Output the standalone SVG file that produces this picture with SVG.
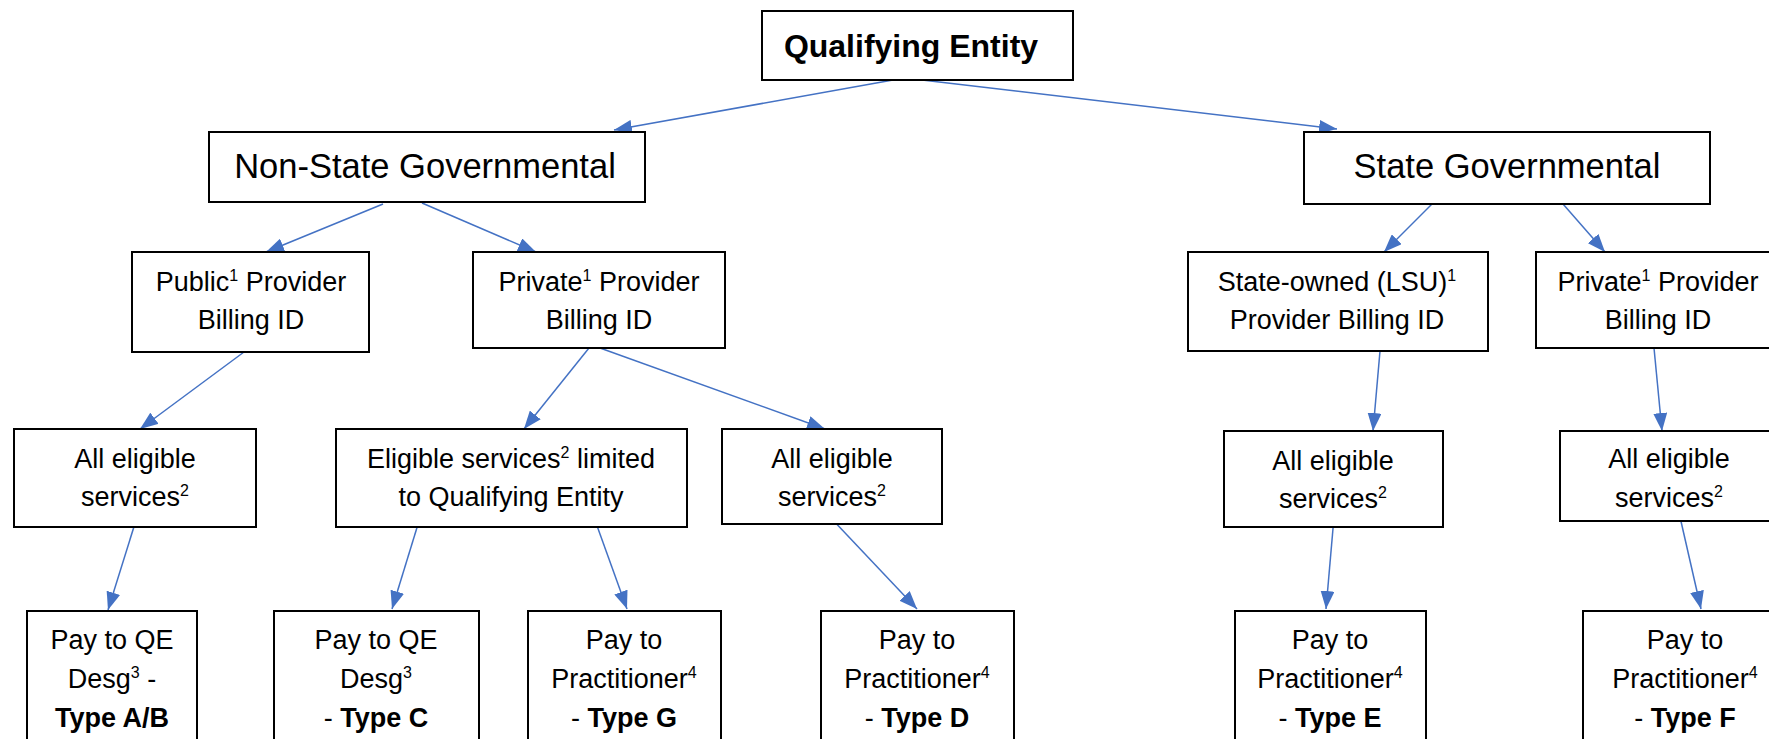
<svg xmlns="http://www.w3.org/2000/svg" width="1769" height="739" viewBox="0 0 1769 739">
<style>
.box{fill:#fff;stroke:#000;stroke-width:2}
.t{font-family:"Liberation Sans",Arial,sans-serif;font-size:27px;fill:#000;text-anchor:middle}
.big{font-size:34.5px}
.qe{font-size:32px;font-weight:bold}
.b{font-weight:bold}
.sup{font-size:16px}
.edge{stroke:#4472C4;stroke-width:1.5;fill:none;marker-end:url(#ah)}
</style>
<defs>
<marker id="ah" markerUnits="userSpaceOnUse" markerWidth="18" markerHeight="14" refX="18" refY="7" orient="auto">
<path d="M0,0 L18,7 L0,14 z" fill="#4472C4"/>
</marker>
</defs>
<rect width="1769" height="739" fill="#fff"/>
<g id="connectors">
<line class="edge" x1="893" y1="80" x2="614" y2="130"/>
<line class="edge" x1="922" y1="80" x2="1337" y2="129"/>
<line class="edge" x1="383" y1="204" x2="266" y2="252"/>
<line class="edge" x1="422" y1="203" x2="536" y2="252"/>
<line class="edge" x1="244" y1="352" x2="140" y2="429"/>
<line class="edge" x1="589" y1="348" x2="524" y2="429"/>
<line class="edge" x1="600" y1="348" x2="825" y2="429"/>
<line class="edge" x1="137" y1="517" x2="108" y2="610"/>
<line class="edge" x1="419" y1="521" x2="392" y2="609"/>
<line class="edge" x1="596" y1="523" x2="627" y2="609"/>
<line class="edge" x1="830" y1="517" x2="917" y2="609"/>
<line class="edge" x1="1432" y1="204" x2="1384" y2="252"/>
<line class="edge" x1="1563" y1="204" x2="1605" y2="252"/>
<line class="edge" x1="1380" y1="351" x2="1373" y2="431"/>
<line class="edge" x1="1654" y1="348" x2="1662" y2="431"/>
<line class="edge" x1="1334" y1="517" x2="1326" y2="609"/>
<line class="edge" x1="1680" y1="517" x2="1701" y2="609"/>
</g>
<g id="qe">
<rect class="box" x="762" y="11" width="311" height="69"/>
<text class="t qe" x="911" y="57">Qualifying Entity</text>
</g>
<g id="nonstate">
<rect class="box" x="209" y="132" width="436" height="70"/>
<text class="t big" x="425" y="178">Non-State Governmental</text>
</g>
<g id="state">
<rect class="box" x="1304" y="132" width="406" height="72"/>
<text class="t big" x="1507" y="178">State Governmental</text>
</g>
<g id="public">
<rect class="box" x="132" y="252" width="237" height="100"/>
<text class="t" x="251" y="291">Public<tspan class="sup" baseline-shift="10">1</tspan> Provider</text>
<text class="t" x="251" y="329">Billing ID</text>
</g>
<g id="privateL">
<rect class="box" x="473" y="252" width="252" height="96"/>
<text class="t" x="599" y="291">Private<tspan class="sup" baseline-shift="10">1</tspan> Provider</text>
<text class="t" x="599" y="329">Billing ID</text>
</g>
<g id="stateowned">
<rect class="box" x="1188" y="252" width="300" height="99"/>
<text class="t" x="1337" y="291">State-owned (LSU)<tspan class="sup" baseline-shift="10">1</tspan></text>
<text class="t" x="1337" y="329">Provider Billing ID</text>
</g>
<g id="privateR">
<rect class="box" x="1536" y="252" width="244" height="96"/>
<text class="t" x="1658" y="291">Private<tspan class="sup" baseline-shift="10">1</tspan> Provider</text>
<text class="t" x="1658" y="329">Billing ID</text>
</g>
<g id="ae1">
<rect class="box" x="14" y="429" width="242" height="98"/>
<text class="t" x="135" y="468">All eligible</text>
<text class="t" x="135" y="506">services<tspan class="sup" baseline-shift="10">2</tspan></text>
</g>
<g id="elig">
<rect class="box" x="336" y="429" width="351" height="98"/>
<text class="t" x="511" y="468">Eligible services<tspan class="sup" baseline-shift="10">2</tspan> limited</text>
<text class="t" x="511" y="506">to Qualifying Entity</text>
</g>
<g id="ae2">
<rect class="box" x="722" y="429" width="220" height="95"/>
<text class="t" x="832" y="468">All eligible</text>
<text class="t" x="832" y="506">services<tspan class="sup" baseline-shift="10">2</tspan></text>
</g>
<g id="ae3">
<rect class="box" x="1224" y="431" width="219" height="96"/>
<text class="t" x="1333" y="470">All eligible</text>
<text class="t" x="1333" y="508">services<tspan class="sup" baseline-shift="10">2</tspan></text>
</g>
<g id="ae4">
<rect class="box" x="1560" y="431" width="220" height="90"/>
<text class="t" x="1669" y="468">All eligible</text>
<text class="t" x="1669" y="507">services<tspan class="sup" baseline-shift="10">2</tspan></text>
</g>
<g id="typeAB">
<rect class="box" x="27" y="611" width="170" height="150"/>
<text class="t" x="112" y="649">Pay to QE</text>
<text class="t" x="112" y="688">Desg<tspan class="sup" baseline-shift="10">3</tspan> -</text>
<text class="t b" x="112" y="727">Type A/B</text>
</g>
<g id="typeC">
<rect class="box" x="274" y="611" width="205" height="150"/>
<text class="t" x="376" y="649">Pay to QE</text>
<text class="t" x="376" y="688">Desg<tspan class="sup" baseline-shift="10">3</tspan></text>
<text class="t" x="376" y="727">- <tspan class="b">Type C</tspan></text>
</g>
<g id="typeG">
<rect class="box" x="528" y="611" width="193" height="150"/>
<text class="t" x="624" y="649">Pay to</text>
<text class="t" x="624" y="688">Practitioner<tspan class="sup" baseline-shift="10">4</tspan></text>
<text class="t" x="624" y="727">- <tspan class="b">Type G</tspan></text>
</g>
<g id="typeD">
<rect class="box" x="821" y="611" width="193" height="150"/>
<text class="t" x="917" y="649">Pay to</text>
<text class="t" x="917" y="688">Practitioner<tspan class="sup" baseline-shift="10">4</tspan></text>
<text class="t" x="917" y="727">- <tspan class="b">Type D</tspan></text>
</g>
<g id="typeE">
<rect class="box" x="1235" y="611" width="191" height="150"/>
<text class="t" x="1330" y="649">Pay to</text>
<text class="t" x="1330" y="688">Practitioner<tspan class="sup" baseline-shift="10">4</tspan></text>
<text class="t" x="1330" y="727">- <tspan class="b">Type E</tspan></text>
</g>
<g id="typeF">
<rect class="box" x="1583" y="611" width="204" height="150"/>
<text class="t" x="1685" y="649">Pay to</text>
<text class="t" x="1685" y="688">Practitioner<tspan class="sup" baseline-shift="10">4</tspan></text>
<text class="t" x="1685" y="727">- <tspan class="b">Type F</tspan></text>
</g>
</svg>
